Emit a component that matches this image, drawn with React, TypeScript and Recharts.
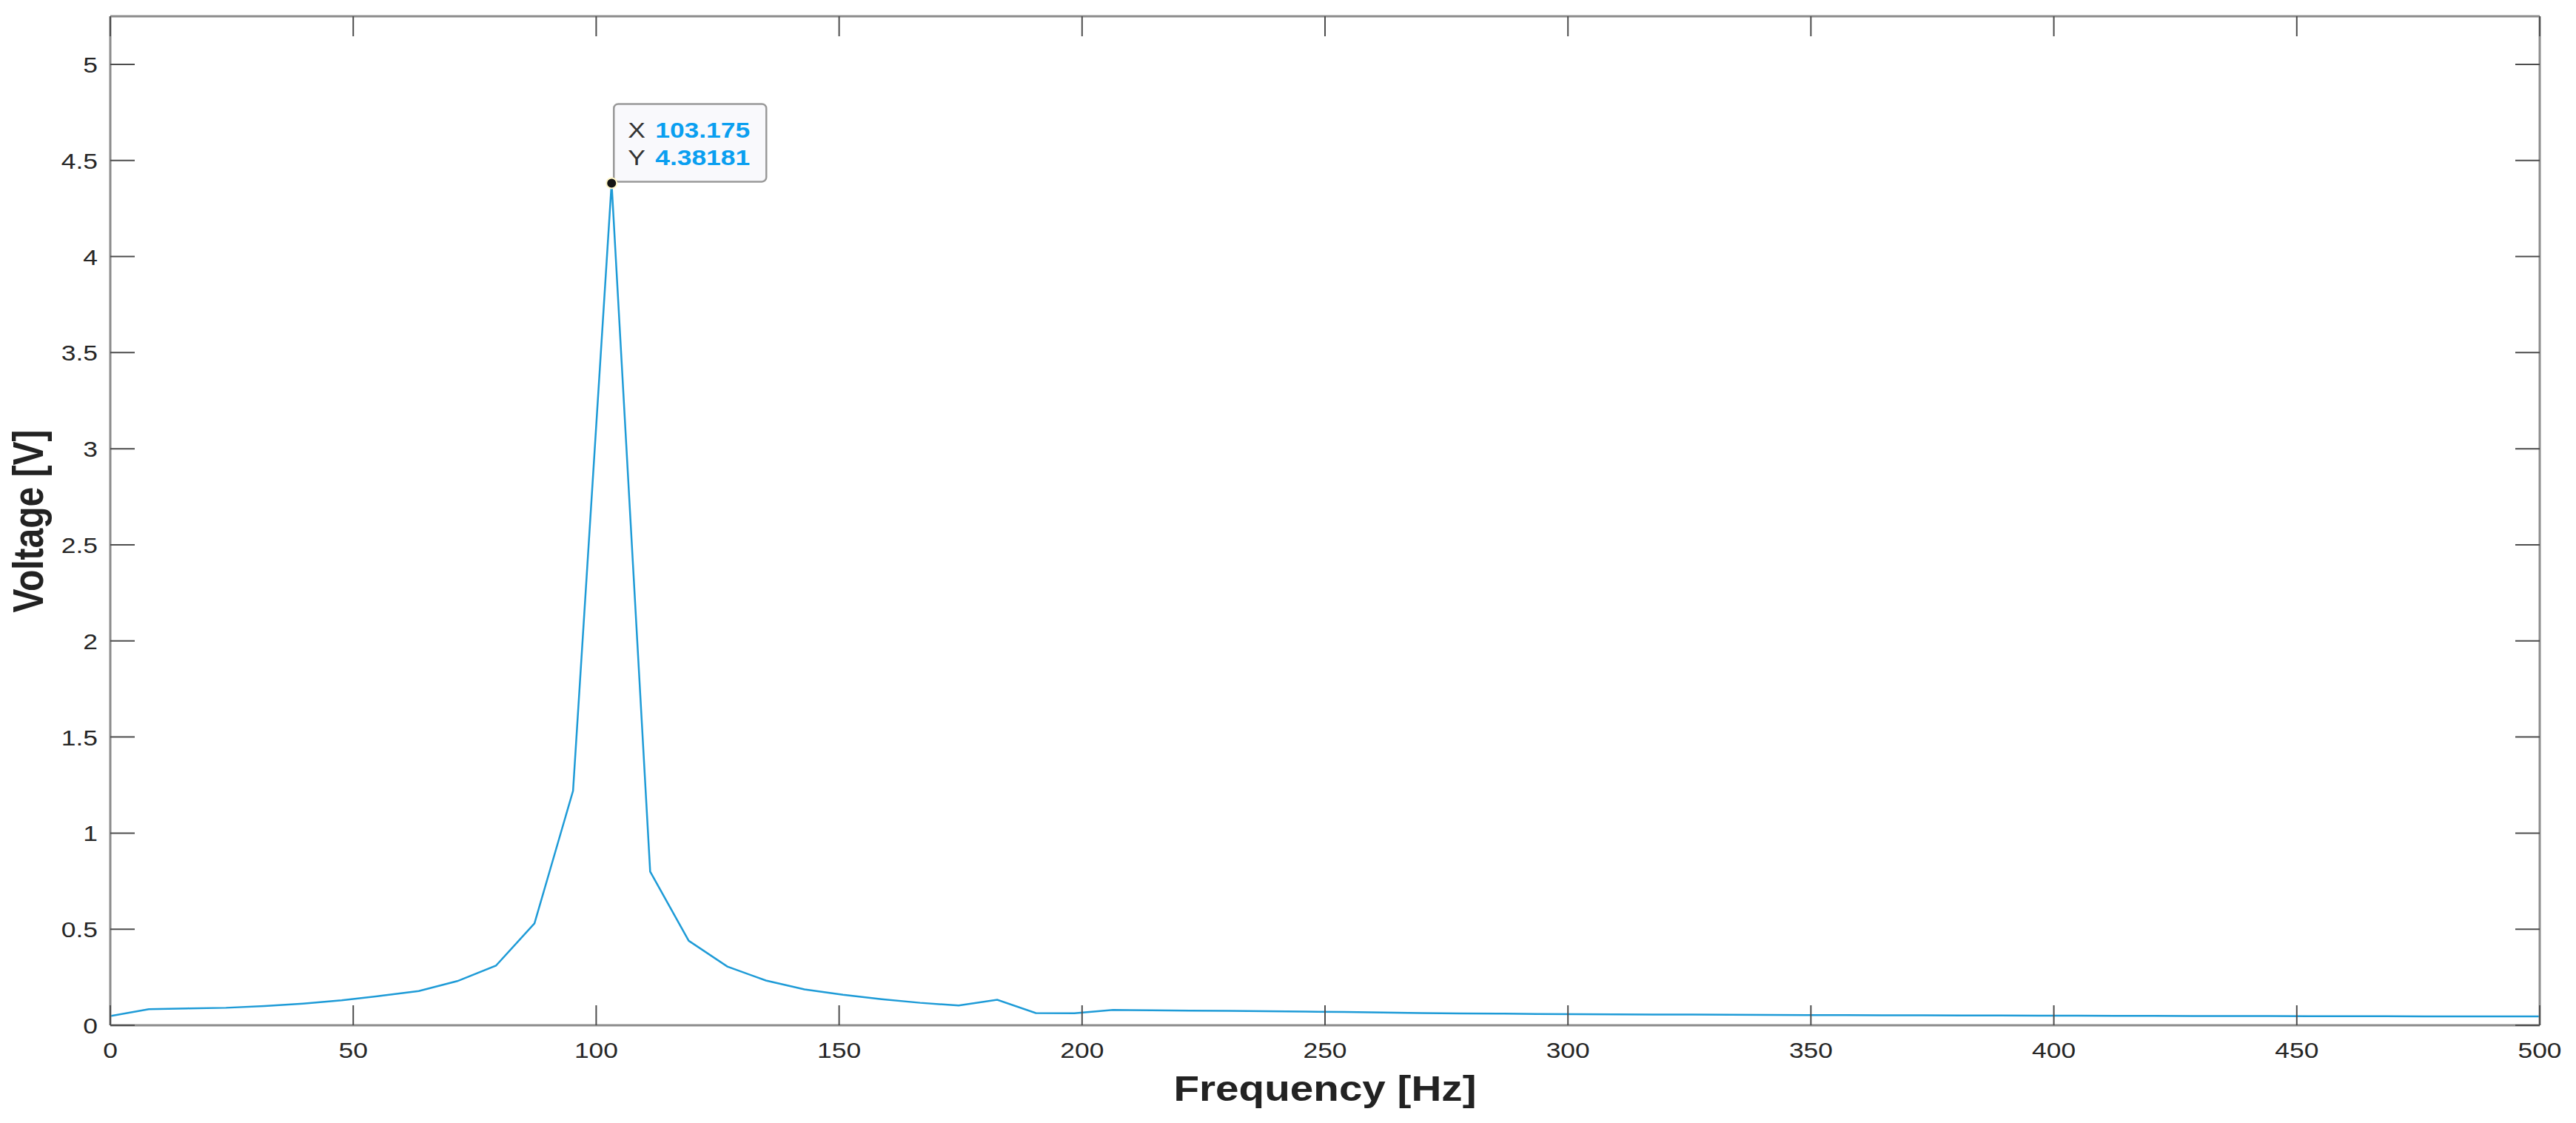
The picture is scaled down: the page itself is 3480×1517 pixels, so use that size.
import { LineChart, Line, XAxis, YAxis, ReferenceDot } from "recharts";

// FFT bins, fs = 1000 Hz, N = 126
const freqHz = [
  0, 7.937, 15.873, 23.81, 31.746, 39.683, 47.619, 55.556, 63.492, 71.429,
  79.365, 87.302, 95.238, 103.175, 111.111, 119.048, 126.984, 134.921, 142.857,
  150.794, 158.73, 166.667, 174.603, 182.54, 190.476, 198.413, 206.349, 214.286,
  222.222, 230.159, 238.095, 246.032, 253.968, 261.905, 269.841, 277.778,
  285.714, 293.651, 301.587, 309.524, 317.46, 325.397, 333.333, 341.27, 349.206,
  357.143, 365.079, 373.016, 380.952, 388.889, 396.825, 404.762, 412.698,
  420.635, 428.571, 436.508, 444.444, 452.381, 460.317, 468.254, 476.19,
  484.127, 492.063, 500,
];

const voltage = [
  0.048, 0.084, 0.088, 0.091, 0.1, 0.113, 0.13, 0.153, 0.178, 0.23, 0.31, 0.53,
  1.22, 4.38181, 0.8, 0.44, 0.306, 0.233, 0.187, 0.159, 0.136, 0.117, 0.103,
  0.133, 0.064, 0.063, 0.08, 0.078, 0.076, 0.075, 0.073, 0.071, 0.069, 0.066,
  0.064, 0.062, 0.061, 0.059, 0.058, 0.057, 0.056, 0.056, 0.055, 0.054, 0.053,
  0.053, 0.052, 0.052, 0.051, 0.051, 0.05, 0.05, 0.049, 0.049, 0.048, 0.048,
  0.048, 0.047, 0.047, 0.047, 0.046, 0.046, 0.046, 0.046,
];

const xTicks = [0, 50, 100, 150, 200, 250, 300, 350, 400, 450, 500];
const yTicks = [0, 0.5, 1, 1.5, 2, 2.5, 3, 3.5, 4, 4.5, 5];

const peakFreq = 103.175;
const peakVolt = 4.38181;

const data = freqHz.map((f, i) => ({ f, v: voltage[i] }));

const FONT = "'Liberation Sans', Arial, Helvetica, sans-serif";
const SX = 1.18; // the source picture is a bit wider than tall
const TICK = "#4d4d4d";
const AXIS = "#8c8c8c";

function BottomTick({ x, y, payload }: any) {
  return (
    <g>
      <line x1={x} y1={y} x2={x} y2={y - 27} stroke={TICK} strokeWidth={2} />
      <text
        transform={`translate(${x},${y + 44}) scale(${SX},1)`}
        textAnchor="middle"
        fontSize={30}
        fill="#262626"
        fontFamily={FONT}
      >
        {payload.value}
      </text>
    </g>
  );
}

function TopTick({ x, y }: any) {
  return <line x1={x} y1={y} x2={x} y2={y + 27} stroke={TICK} strokeWidth={2} />;
}

function LeftTick({ x, y, payload }: any) {
  return (
    <g>
      <line x1={x} y1={y} x2={x + 33} y2={y} stroke={TICK} strokeWidth={2} />
      <text
        transform={`translate(${x - 17},${y + 11}) scale(${SX},1)`}
        textAnchor="end"
        fontSize={30}
        fill="#262626"
        fontFamily={FONT}
      >
        {payload.value}
      </text>
    </g>
  );
}

function RightTick({ x, y }: any) {
  return <line x1={x} y1={y} x2={x - 33} y2={y} stroke={TICK} strokeWidth={2} />;
}

function DataTip({ cx, cy }: any) {
  const txt = (dx: number, dy: number, s: string, bold: boolean, fill: string) => (
    <text
      transform={`translate(${cx + dx},${cy + dy}) scale(${SX},1)`}
      fontSize={30}
      fontWeight={bold ? "bold" : "normal"}
      fill={fill}
      fontFamily={FONT}
    >
      {s}
    </text>
  );
  return (
    <g>
      <rect
        x={cx + 3}
        y={cy - 107}
        width={206}
        height={105}
        rx={6}
        fill="#f9f9fc"
        stroke="#9a9a9a"
        strokeWidth={2.5}
      />
      <circle cx={cx} cy={cy} r={7} fill="#141414" stroke="#fff6c8" strokeWidth={2} />
      {txt(22, -61, "X", false, "#333")}
      {txt(59, -61, String(peakFreq), true, "#0a9ff0")}
      {txt(22, -24, "Y", false, "#333")}
      {txt(59, -24, String(peakVolt), true, "#0a9ff0")}
    </g>
  );
}

export default function App() {
  return (
    <div style={{ position: "absolute", left: 0, top: 0, background: "#fff" }}>
      <LineChart
        width={3480}
        height={1517}
        data={data}
        margin={{ top: 21, right: 48, bottom: 0, left: 0 }}
      >
        <XAxis
          xAxisId="b"
          dataKey="f"
          type="number"
          domain={[0, 500]}
          ticks={xTicks}
          height={132}
          tickSize={0}
          tickMargin={0}
          tick={BottomTick}
          tickLine={false}
          axisLine={{ stroke: AXIS, strokeWidth: 3 }}
          allowDataOverflow
        />
        <XAxis
          xAxisId="t"
          orientation="top"
          dataKey="f"
          type="number"
          domain={[0, 500]}
          ticks={xTicks}
          height={1}
          tickSize={0}
          tickMargin={0}
          tick={TopTick}
          tickLine={false}
          axisLine={{ stroke: AXIS, strokeWidth: 3 }}
          allowDataOverflow
        />
        <YAxis
          yAxisId="l"
          type="number"
          domain={[0, 5.25]}
          ticks={yTicks}
          width={149}
          tickSize={0}
          tickMargin={0}
          tick={LeftTick}
          tickLine={false}
          axisLine={{ stroke: AXIS, strokeWidth: 3 }}
          allowDataOverflow
        />
        <YAxis
          yAxisId="r"
          orientation="right"
          type="number"
          domain={[0, 5.25]}
          ticks={yTicks}
          width={1}
          tickSize={0}
          tickMargin={0}
          tick={RightTick}
          tickLine={false}
          axisLine={{ stroke: AXIS, strokeWidth: 3 }}
          allowDataOverflow
        />
        <Line
          xAxisId="b"
          yAxisId="l"
          type="linear"
          dataKey="v"
          stroke="#1e9bd7"
          strokeWidth={2.5}
          dot={false}
          isAnimationActive={false}
        />
        <ReferenceDot
          xAxisId="b"
          yAxisId="l"
          x={peakFreq}
          y={peakVolt}
          ifOverflow="visible"
          shape={(p: any) => <DataTip {...p} />}
        />
      </LineChart>
      <svg
        width={3480}
        height={1517}
        style={{ position: "absolute", left: 0, top: 0, pointerEvents: "none" }}
      >
        <text
          transform={`translate(1790,1487) scale(${SX},1)`}
          textAnchor="middle"
          fontSize={48}
          fontWeight="bold"
          fill="#222"
          fontFamily={FONT}
        >
          Frequency [Hz]
        </text>
        <text
          transform={`translate(58,704) scale(${SX},1) rotate(-90)`}
          textAnchor="middle"
          fontSize={48}
          fontWeight="bold"
          fill="#222"
          fontFamily={FONT}
        >
          Voltage [V]
        </text>
      </svg>
    </div>
  );
}
